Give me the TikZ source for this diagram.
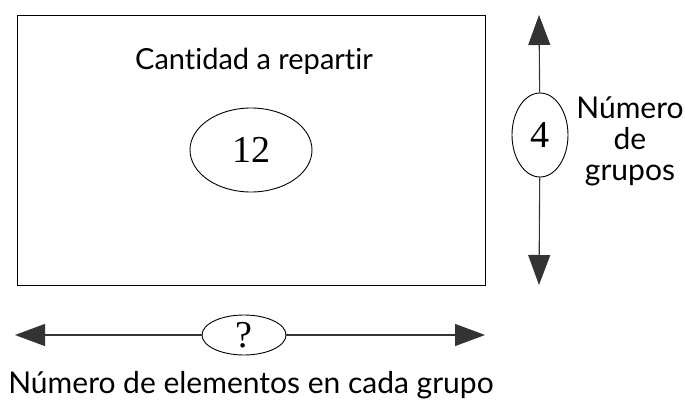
\documentclass[tikz,border=0pt]{standalone}
\usepackage{fontspec}
\setmainfont{Liberation Serif}
\newfontfamily\labfont[Ligatures=NoCommon]{Lato}
\usetikzlibrary{arrows.meta,shapes.geometric}
\begin{document}
\begin{tikzpicture}[x=1pt,y=-1pt,
  lab/.style={font=\labfont\fontsize{30}{31}\selectfont, inner sep=0pt},
  num/.style={draw, ellipse, inner sep=0pt, line width=0.9pt, font=\fontsize{38}{38}\selectfont},
  arr/.style={line width=1.1pt, draw=black!80, -{Triangle[length=30pt,width=22pt]}}]
\useasboundingbox (0,0) rectangle (685,401);
\node[draw, line width=0.9pt, minimum width=468pt, minimum height=270pt, inner sep=0pt] (box) at (251,150) {};
\node[lab, font=\labfont\fontsize{29}{31}\selectfont, anchor=base] (title) at (254,70) {Cantidad a repartir};
\node[num, minimum width=122pt, minimum height=84pt] (e12) at (251,150) {12};
% vertical arrow
\coordinate (vtop) at (539,15);
\coordinate (vbot) at (539,285);
\node[num, minimum width=56pt, minimum height=84pt] (e4) at (540,135) {4};
\draw[arr] (e4) -- (vtop);
\draw[arr] (e4) -- (vbot);
\node[lab, align=center, anchor=base] (grp) at (630,180) {Número\\de\\grupos};
% horizontal arrow
\coordinate (hl) at (15,335);
\coordinate (hr) at (485,335);
\node[num, minimum width=84pt, minimum height=40pt] (eq) at (244,335) {?};
\draw[arr] (eq) -- (hl);
\draw[arr] (eq) -- (hr);
\node[lab, anchor=base] (bot) at (251,393) {Número de elementos en cada grupo};
\end{tikzpicture}
\end{document}
